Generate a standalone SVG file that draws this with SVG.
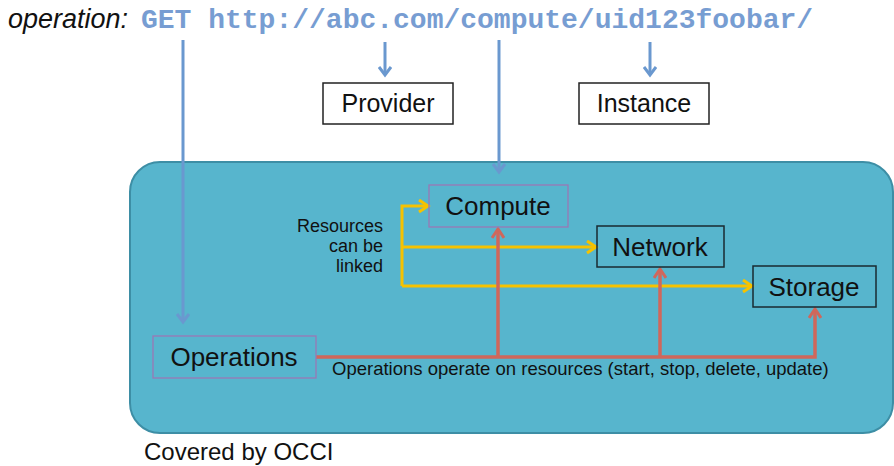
<svg xmlns="http://www.w3.org/2000/svg" width="894" height="466" viewBox="0 0 894 466">
<defs>
<style>
.lbl{font-family:"Liberation Sans",Arial,sans-serif;fill:#111}
.box{fill:none;stroke:#1a2a30;stroke-width:1.5}
.pbox{fill:none;stroke:#9a78b4;stroke-width:1.3}
.wbox{fill:#fff;stroke:#222;stroke-width:1.5}
.blue{stroke:#6a98cf;stroke-width:3;fill:none}
.yel{stroke:#f6c200;stroke-width:3;fill:none}
.red{stroke:#d0675b;stroke-width:3.5;fill:none}
</style>
<marker id="ab" markerWidth="14" markerHeight="14" refX="10" refY="7" orient="auto" markerUnits="userSpaceOnUse"><path d="M2,1 L10,7 L2,13" fill="none" stroke="#6a98cf" stroke-width="3"/></marker>
<marker id="ay" markerWidth="14" markerHeight="14" refX="11" refY="7" orient="auto" markerUnits="userSpaceOnUse"><path d="M2,1 L11,7 L2,13" fill="none" stroke="#f6c200" stroke-width="3"/></marker>
<marker id="ar" markerWidth="14" markerHeight="14" refX="11" refY="7" orient="auto" markerUnits="userSpaceOnUse"><path d="M2,1 L11,7 L2,13" fill="none" stroke="#d0675b" stroke-width="3"/></marker>
</defs>
<rect width="894" height="466" fill="#fff"/>
<g id="title">
<text x="8" y="28" class="lbl" font-size="27" font-style="italic">operation:</text>
<text x="141" y="28" font-family="'Liberation Mono','Courier New',monospace" font-weight="bold" font-size="28" fill="#779dd2">GET http://abc.com/compute/uid123foobar/</text>
</g>
<g id="occi">
<rect x="130" y="162" width="763" height="271" rx="30" ry="30" fill="#57b5cd" stroke="#3d8ea5" stroke-width="2"/>
<text x="144" y="460" class="lbl" font-size="24">Covered by OCCI</text>
</g>
<g id="provider">
<rect x="323" y="83" width="130" height="41" class="wbox"/>
<text x="388" y="112" class="lbl" font-size="25" text-anchor="middle">Provider</text>
</g>
<g id="instance">
<rect x="579" y="83" width="130" height="41" class="wbox"/>
<text x="644" y="112" class="lbl" font-size="25" text-anchor="middle">Instance</text>
</g>
<g id="connectors">
<line x1="183" y1="40" x2="183" y2="322" class="blue" marker-end="url(#ab)"/>
<line x1="385" y1="42" x2="385" y2="75" class="blue" marker-end="url(#ab)"/>
<line x1="499" y1="40" x2="499" y2="172" class="blue" marker-end="url(#ab)"/>
<line x1="650" y1="42" x2="650" y2="75" class="blue" marker-end="url(#ab)"/>
<path d="M402,286 L402,206 L428,206" class="yel" marker-end="url(#ay)"/>
<line x1="402" y1="286" x2="752" y2="286" class="yel" marker-end="url(#ay)"/>
<line x1="402" y1="247" x2="596" y2="247" class="yel" marker-end="url(#ay)"/>
<path d="M316,357 L815,357 L815,309" class="red" marker-end="url(#ar)"/>
<line x1="498" y1="357" x2="498" y2="229" class="red" marker-end="url(#ar)"/>
<line x1="660" y1="357" x2="660" y2="269" class="red" marker-end="url(#ar)"/>
<text x="383" y="232" class="lbl" font-size="18" text-anchor="end">Resources</text>
<text x="383" y="252" class="lbl" font-size="18" text-anchor="end">can be</text>
<text x="383" y="272" class="lbl" font-size="18" text-anchor="end">linked</text>
<text x="332" y="375" class="lbl" font-size="18.5">Operations operate on resources (start, stop, delete, update)</text>
</g>
<g id="compute">
<rect x="429" y="185" width="139" height="42" class="pbox"/>
<text x="498" y="215" class="lbl" font-size="26" text-anchor="middle">Compute</text>
</g>
<g id="network">
<rect x="597" y="226" width="127" height="41" class="box"/>
<text x="660" y="256" class="lbl" font-size="26" text-anchor="middle">Network</text>
</g>
<g id="storage">
<rect x="753" y="266" width="123" height="41" class="box"/>
<text x="814" y="296" class="lbl" font-size="26" text-anchor="middle">Storage</text>
</g>
<g id="operations">
<rect x="153" y="336" width="163" height="42" class="pbox"/>
<text x="234" y="366" class="lbl" font-size="26" text-anchor="middle">Operations</text>
</g>
</svg>
